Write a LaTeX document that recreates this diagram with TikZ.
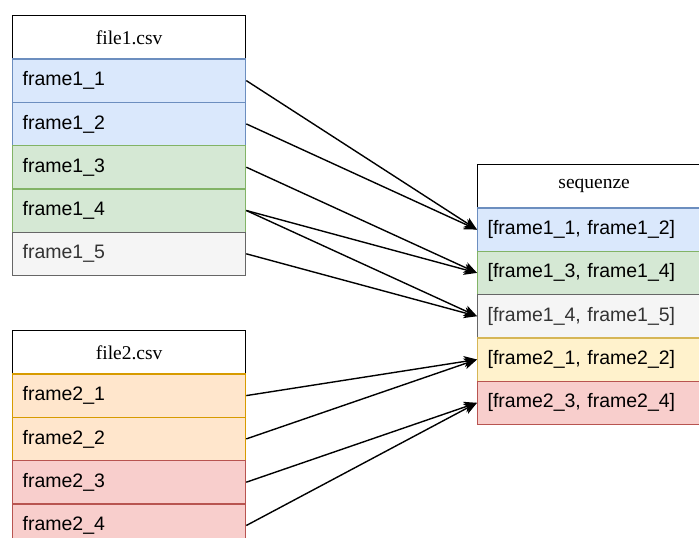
\documentclass[tikz,border=0pt]{standalone}
\usepackage{fontspec}
\setmainfont{Liberation Serif}
\setsansfont{Liberation Sans}
\usetikzlibrary{arrows.meta}
\definecolor{bluef}{HTML}{DAE8FC}\definecolor{blues}{HTML}{6C8EBF}
\definecolor{greenf}{HTML}{D5E8D4}\definecolor{greens}{HTML}{82B366}
\definecolor{grayf}{HTML}{F5F5F5}\definecolor{grays}{HTML}{666666}\definecolor{grayt}{HTML}{333333}
\definecolor{orangef}{HTML}{FFE6CC}\definecolor{oranges}{HTML}{D79B00}
\definecolor{yellowf}{HTML}{FFF2CC}\definecolor{yellows}{HTML}{D6B656}
\definecolor{redf}{HTML}{F8CECC}\definecolor{reds}{HTML}{B85450}
\tikzset{
  cell/.style={rectangle, anchor=north west, minimum height=43.3pt, text width=213pt, inner xsep=10pt, inner ysep=0pt, align=left, line width=1.3pt, font=\sffamily\fontsize{19.5}{23}\selectfont},
  header/.style={cell, align=center, draw=black, fill=white, font=\rmfamily\fontsize{19.5}{23}\selectfont},
  blue/.style={cell, fill=bluef, draw=blues},
  green/.style={cell, fill=greenf, draw=greens},
  grey/.style={cell, fill=grayf, draw=grays, text=grayt},
  orange/.style={cell, fill=orangef, draw=oranges},
  yellow/.style={cell, fill=yellowf, draw=yellows},
  red/.style={cell, fill=redf, draw=reds},
  arr/.style={line width=1.4pt, -{Stealth[length=13pt, width=11pt, inset=3.5pt]}}
}
\begin{document}
\begin{tikzpicture}[x=1pt, y=-1pt]
\useasboundingbox (0,0) rectangle (699,538);
\clip (0,0) rectangle (699,538);
% file1
\node[header] (h1) at (12,15) {file1.csv};
\node[blue]  (f11) at (12,58.3)  {frame1\_1};
\node[blue]  (f12) at (12,101.6) {frame1\_2};
\node[green] (f13) at (12,144.9) {frame1\_3};
\node[green] (f14) at (12,188.2) {frame1\_4};
\node[grey]  (f15) at (12,231.5) {frame1\_5};
% file2
\node[header] (h2) at (12,330) {file2.csv};
\node[orange] (f21) at (12,373.3) {frame2\_1};
\node[orange] (f22) at (12,416.6) {frame2\_2};
\node[red]    (f23) at (12,459.9) {frame2\_3};
\node[red]    (f24) at (12,503.2) {frame2\_4};
% sequenze
\node[header] (h3) at (477,164) {sequenze};
\node[blue]   (s1) at (477,207.3) {[frame1\_1, frame1\_2]};
\node[green]  (s2) at (477,250.6) {[frame1\_3, frame1\_4]};
\node[grey]   (s3) at (477,293.9) {[frame1\_4, frame1\_5]};
\node[yellow] (s4) at (477,337.2) {[frame2\_1, frame2\_2]};
\node[red]    (s5) at (477,380.5) {[frame2\_3, frame2\_4]};
% arrows
\draw[arr] (f11.east) -- (s1.west);
\draw[arr] (f12.east) -- (s1.west);
\draw[arr] (f13.east) -- (s2.west);
\draw[arr] (f14.east) -- (s2.west);
\draw[arr] (f14.east) -- (s3.west);
\draw[arr] (f15.east) -- (s3.west);
\draw[arr] (f21.east) -- (s4.west);
\draw[arr] (f22.east) -- (s4.west);
\draw[arr] (f23.east) -- (s5.west);
\draw[arr] (f24.east) -- (s5.west);
\end{tikzpicture}
\end{document}
